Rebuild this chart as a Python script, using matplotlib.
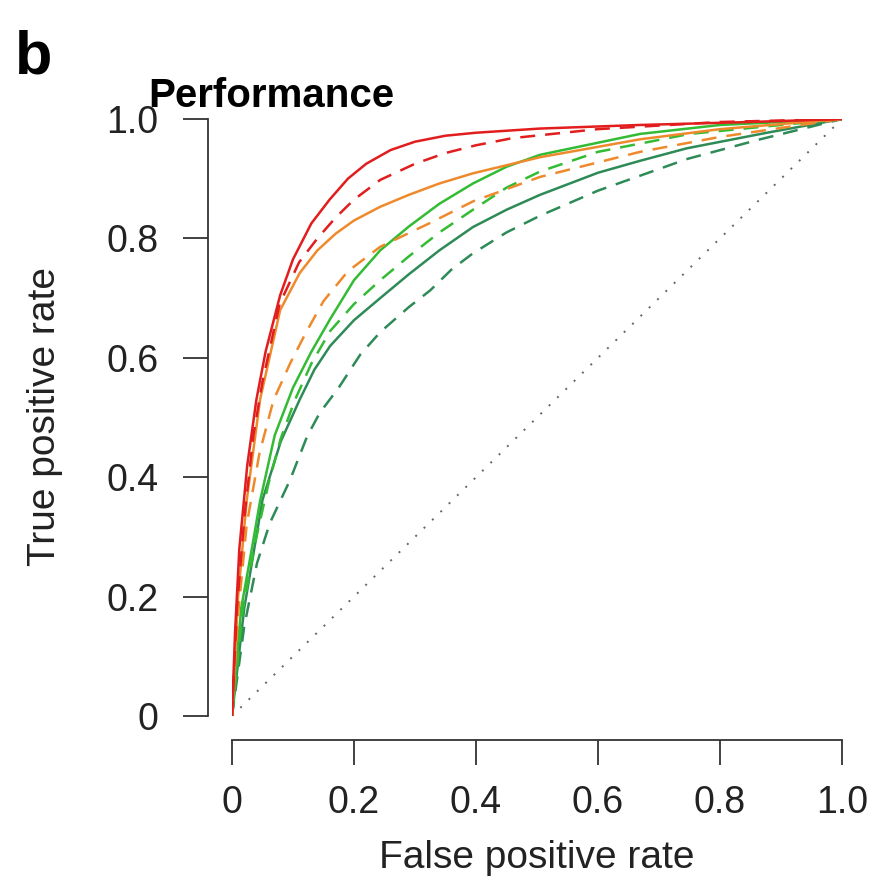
import matplotlib
matplotlib.use("Agg")
import matplotlib.pyplot as plt

plt.rcParams['font.family'] = ['Liberation Sans', 'DejaVu Sans']

# ROC curves: (false positive rate, true positive rate)
red_solid_fpr = [0, 0.005, 0.012, 0.025, 0.04, 0.055, 0.079, 0.1, 0.13, 0.16, 0.19, 0.22, 0.26, 0.3, 0.35, 0.4, 0.505, 0.669, 0.85, 1]
red_solid_tpr = [0, 0.14, 0.28, 0.42, 0.53, 0.61, 0.705, 0.765, 0.825, 0.865, 0.9, 0.925, 0.948, 0.962, 0.972, 0.977, 0.984, 0.99, 0.995, 1]

red_dash_fpr = [0, 0.008, 0.02, 0.035, 0.05, 0.078, 0.11, 0.14, 0.17, 0.2, 0.243, 0.3, 0.35, 0.4, 0.46, 0.6, 0.8, 1]
red_dash_tpr = [0, 0.18, 0.33, 0.47, 0.56, 0.69, 0.76, 0.8, 0.835, 0.865, 0.898, 0.925, 0.943, 0.956, 0.968, 0.983, 0.995, 1]

orange_solid_fpr = [0, 0.01, 0.024, 0.046, 0.079, 0.111, 0.14, 0.17, 0.2, 0.243, 0.29, 0.34, 0.395, 0.505, 0.669, 0.8, 1]
orange_solid_tpr = [0, 0.2, 0.36, 0.53, 0.68, 0.742, 0.78, 0.808, 0.83, 0.853, 0.873, 0.892, 0.909, 0.936, 0.966, 0.983, 1]

orange_dash_fpr = [0, 0.01, 0.024, 0.045, 0.068, 0.095, 0.12, 0.15, 0.19, 0.243, 0.325, 0.395, 0.505, 0.669, 0.8, 1]
orange_dash_tpr = [0, 0.17, 0.32, 0.44, 0.529, 0.59, 0.64, 0.695, 0.745, 0.786, 0.826, 0.862, 0.903, 0.945, 0.97, 1]

green_solid_fpr = [0, 0.015, 0.033, 0.046, 0.07, 0.1, 0.13, 0.161, 0.2, 0.243, 0.29, 0.34, 0.395, 0.45, 0.505, 0.669, 0.8, 1]
green_solid_tpr = [0, 0.18, 0.283, 0.36, 0.47, 0.55, 0.61, 0.665, 0.73, 0.78, 0.82, 0.858, 0.892, 0.92, 0.94, 0.975, 0.99, 1]

green_dash_fpr = [0, 0.018, 0.04, 0.06, 0.08, 0.103, 0.13, 0.161, 0.2, 0.243, 0.29, 0.34, 0.395, 0.45, 0.505, 0.6, 0.75, 1]
green_dash_tpr = [0, 0.18, 0.3, 0.39, 0.465, 0.529, 0.59, 0.645, 0.69, 0.73, 0.77, 0.81, 0.848, 0.885, 0.912, 0.945, 0.975, 1]

dkgreen_solid_fpr = [0, 0.02, 0.05, 0.08, 0.111, 0.135, 0.161, 0.2, 0.243, 0.29, 0.34, 0.395, 0.45, 0.505, 0.6, 0.669, 0.746, 0.877, 1]
dkgreen_solid_tpr = [0, 0.18, 0.362, 0.46, 0.53, 0.58, 0.62, 0.663, 0.70, 0.74, 0.78, 0.819, 0.848, 0.873, 0.91, 0.93, 0.951, 0.977, 1]

dkgreen_dash_fpr = [0, 0.02, 0.041, 0.062, 0.095, 0.123, 0.144, 0.175, 0.21, 0.243, 0.29, 0.325, 0.36, 0.395, 0.45, 0.505, 0.6, 0.669, 0.746, 0.866, 1]
dkgreen_dash_tpr = [0, 0.15, 0.256, 0.323, 0.395, 0.468, 0.508, 0.55, 0.605, 0.643, 0.685, 0.713, 0.748, 0.775, 0.81, 0.838, 0.88, 0.905, 0.933, 0.966, 1]

ticks = [0, 0.2, 0.4, 0.6, 0.8, 1.0]
tick_labels = ["0", "0.2", "0.4", "0.6", "0.8", "1.0"]

red = "#e21d1d"
orange = "#ef8a2c"
green = "#33bb33"
dkgreen = "#2e8b57"
dash = (6.0, 4.0)
lw = 1.8

fig = plt.figure(figsize=(8.75, 8.81), dpi=100)
ax = fig.add_axes([232/875, 1 - 716/881, 610/875, 597/881])

ax.plot([0, 1], [0, 1], color="#666666", lw=1.4, linestyle=(0, (1, 5)))

ax.plot(dkgreen_dash_fpr, dkgreen_dash_tpr, color=dkgreen, lw=lw, dashes=dash)
ax.plot(dkgreen_solid_fpr, dkgreen_solid_tpr, color=dkgreen, lw=lw)
ax.plot(green_dash_fpr, green_dash_tpr, color=green, lw=lw, dashes=dash)
ax.plot(green_solid_fpr, green_solid_tpr, color=green, lw=lw)
ax.plot(orange_dash_fpr, orange_dash_tpr, color=orange, lw=lw, dashes=dash)
ax.plot(orange_solid_fpr, orange_solid_tpr, color=orange, lw=lw)
ax.plot(red_dash_fpr, red_dash_tpr, color=red, lw=lw, dashes=dash)
ax.plot(red_solid_fpr, red_solid_tpr, color=red, lw=lw)

ax.set_xlim(0, 1)
ax.set_ylim(0, 1)
ax.set_xticks(ticks)
ax.set_xticklabels(tick_labels)
ax.set_yticks(ticks)
ax.set_yticklabels(tick_labels)

for s in ["top", "right"]:
    ax.spines[s].set_visible(False)
for s in ["left", "bottom"]:
    ax.spines[s].set_position(("outward", 17))
    ax.spines[s].set_color("#333333")
    ax.spines[s].set_linewidth(1.3)

ax.tick_params(axis="both", length=18, width=1.3, color="#333333", labelsize=27, labelcolor="#222222")
ax.tick_params(axis="y", pad=18)
ax.tick_params(axis="x", pad=15)

fig.text(537/875, 1 - 858/881, "False positive rate", fontsize=28, ha="center", va="center", color="#222222")
fig.text(45/875, 1 - 417/881, "True positive rate", fontsize=28, rotation=90, ha="center", va="center", color="#222222")
fig.text(148/875, 1 - 107/881, "Performance", fontsize=29, fontweight="bold", ha="left", va="baseline")
fig.text(15/875, 1 - 74/881, "b", fontsize=44, fontweight="bold", ha="left", va="baseline")

fig.savefig("out.png", dpi=100)
